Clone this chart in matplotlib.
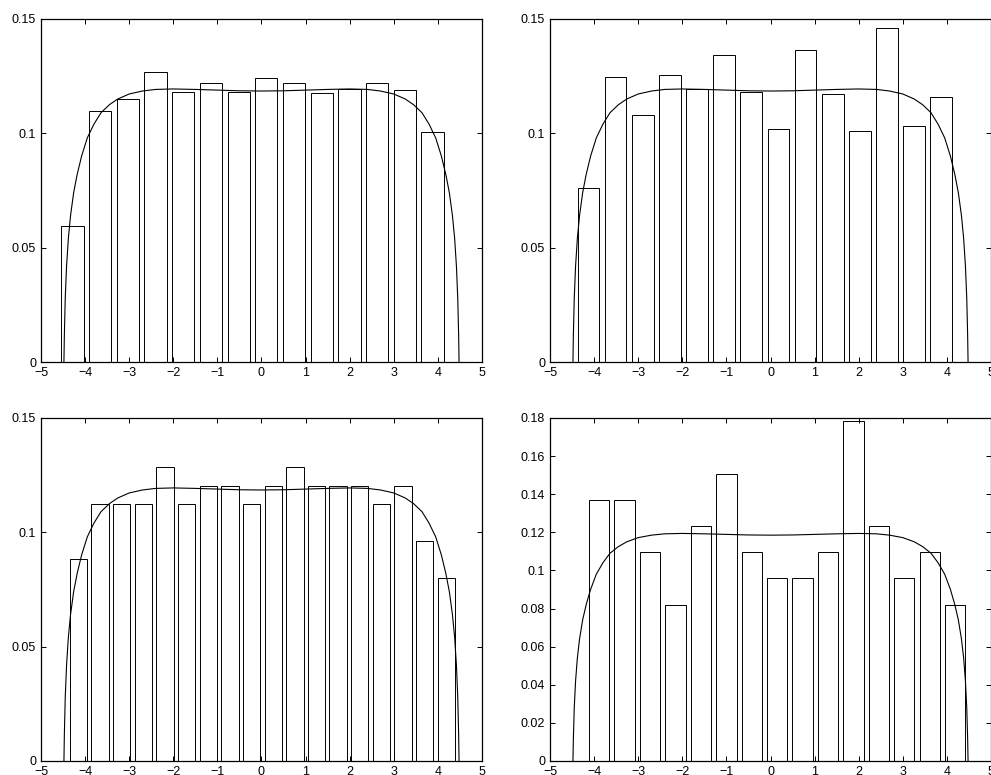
import numpy as np
import matplotlib
matplotlib.use('Agg')
import matplotlib.pyplot as plt

plt.rcParams['font.family'] = ['Liberation Sans', 'DejaVu Sans']
plt.rcParams['font.size'] = 9

# bin centres and normalised bar heights
tl_centers = [-4.286, -3.658, -3.030, -2.402, -1.774, -1.146, -0.518, 0.110,
              0.738, 1.366, 1.994, 2.622, 3.250, 3.878]
tl_heights = [0.0593, 0.1096, 0.1149, 0.1268, 0.1182, 0.1222, 0.1182, 0.1242,
              0.1222, 0.1178, 0.1192, 0.1222, 0.1191, 0.1006]

tr_centers = [-4.129, -3.514, -2.898, -2.283, -1.667, -1.052, -0.437, 0.179,
              0.794, 1.410, 2.025, 2.640, 3.256, 3.871]
tr_heights = [0.0761, 0.1246, 0.1080, 0.1255, 0.1194, 0.1344, 0.1182, 0.1020,
              0.1366, 0.1172, 0.1010, 0.1462, 0.1032, 0.1159]

bl_centers = [-4.150, -3.659, -3.169, -2.678, -2.187, -1.697, -1.206, -0.715,
              -0.224, 0.266, 0.757, 1.248, 1.738, 2.229, 2.720, 3.211, 3.701, 4.192]
bl_heights = [0.0883, 0.1124, 0.1124, 0.1124, 0.1284, 0.1124, 0.1204, 0.1204,
              0.1124, 0.1204, 0.1284, 0.1204, 0.1204, 0.1204, 0.1124, 0.1204,
              0.0963, 0.0801]

br_centers = [-3.883, -3.307, -2.730, -2.154, -1.577, -1.001, -0.425, 0.152,
              0.728, 1.305, 1.881, 2.457, 3.034, 3.610, 4.186]
br_heights = [0.1370, 0.1370, 0.1097, 0.0821, 0.1234, 0.1506, 0.1097, 0.0958,
              0.0958, 0.1097, 0.1783, 0.1234, 0.0958, 0.1097, 0.0821]

# density curve (same in all panels)
curve_x = [-4.48, -4.47, -4.45, -4.42, -4.38, -4.33, -4.26, -4.18, -4.08, -3.95,
           -3.80, -3.64, -3.45, -3.26, -3.00, -2.70, -2.40, -2.00, -1.50, -1.00,
           -0.50, 0.00, 0.50, 1.00, 1.50, 2.00, 2.40, 2.70, 3.00, 3.26, 3.45,
           3.64, 3.80, 3.95, 4.08, 4.18, 4.26, 4.33, 4.38, 4.42, 4.45, 4.47, 4.48]
curve_y = [0.0, 0.012, 0.028, 0.042, 0.054, 0.064, 0.074, 0.082, 0.090, 0.098,
           0.104, 0.1090, 0.1125, 0.1150, 0.1172, 0.1185, 0.1192, 0.1194, 0.1192,
           0.1189, 0.1186, 0.1185, 0.1186, 0.1189, 0.1192, 0.1194, 0.1192, 0.1185,
           0.1172, 0.1150, 0.1125, 0.1090, 0.104, 0.098, 0.090, 0.082, 0.074,
           0.064, 0.054, 0.042, 0.028, 0.012, 0.0]

xticks = [-5, -4, -3, -2, -1, 0, 1, 2, 3, 4, 5]
yticks_a = [0, 0.05, 0.1, 0.15]
yticks_b = [0, 0.02, 0.04, 0.06, 0.08, 0.1, 0.12, 0.14, 0.16, 0.18]

panels = [
    (tl_centers, tl_heights, yticks_a, [0.04137, 0.5329, 0.445, 0.4426]),
    (tr_centers, tr_heights, yticks_a, [0.5550, 0.5329, 0.445, 0.4426]),
    (bl_centers, bl_heights, yticks_a, [0.04137, 0.0181, 0.445, 0.4426]),
    (br_centers, br_heights, yticks_b, [0.5550, 0.0181, 0.445, 0.4426]),
]

fig = plt.figure(figsize=(9.91, 7.75), dpi=100)

for centers, heights, yt, rect in panels:
    ax = fig.add_axes(rect)
    width = 0.8 * np.mean(np.diff(centers))
    ax.bar(centers, heights, width=width, facecolor='white', edgecolor='black',
           linewidth=0.7)
    ax.plot(curve_x, curve_y, color='black', linewidth=0.8)
    ax.set_xlim(-5, 5)
    ax.set_ylim(yt[0], yt[-1])
    ax.set_xticks(xticks)
    ax.set_yticks(yt)
    ax.set_yticklabels(['%g' % v for v in yt])
    ax.tick_params(direction='in', top=True, right=True, length=3.5,
                   width=0.7, pad=3.5, labelsize=9)
    for s in ax.spines.values():
        s.set_linewidth(0.9)

fig.savefig('out.png', dpi=100)
